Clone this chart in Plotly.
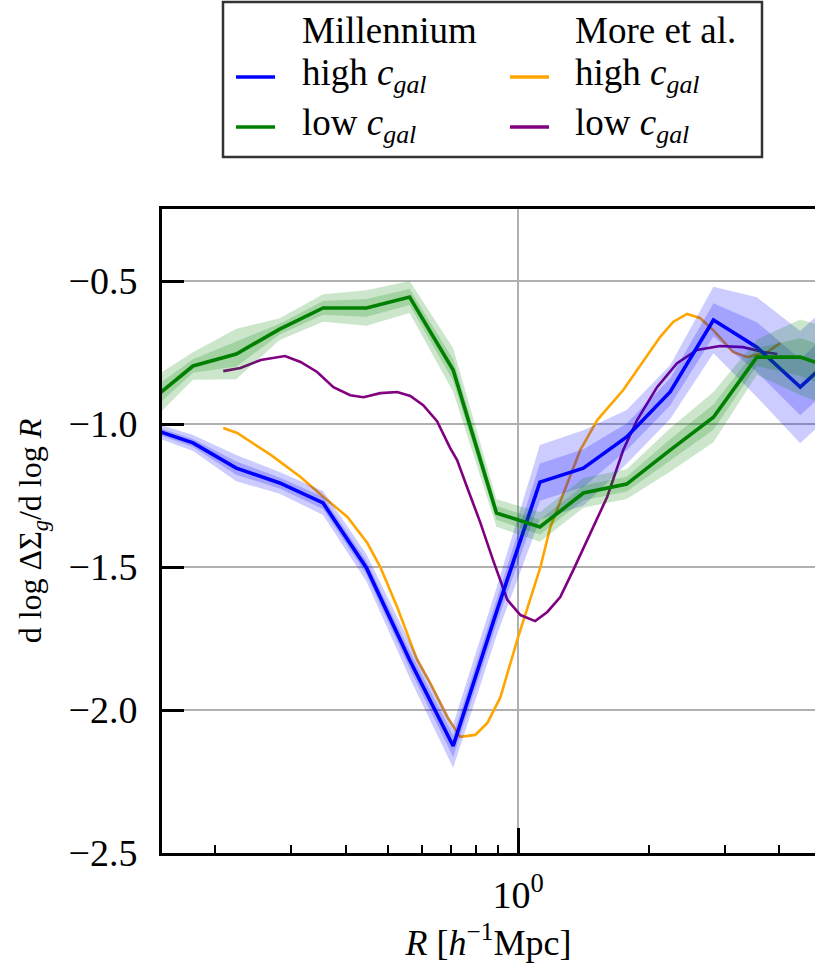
import plotly.graph_objects as go

# ---------------- data ----------------
# Millennium bins (R in h^-1 Mpc)
mill_r = [0.141, 0.178, 0.224, 0.282, 0.355, 0.447, 0.562, 0.708, 0.891,
          1.122, 1.413, 1.778, 2.239, 2.818, 3.548, 4.467, 5.623]
mill_high = [-1.014, -1.066, -1.154, -1.206, -1.276, -1.503, -1.825, -2.126, -1.657,
             -1.203, -1.154, -1.045, -0.888, -0.636, -0.731, -0.871, -0.731]
mill_high_err = [0.012, 0.014, 0.023, 0.019, 0.021, 0.024, 0.031, 0.038, 0.042,
                 0.065, 0.066, 0.047, 0.047, 0.058, 0.087, 0.098, 0.098]
mill_low = [-0.923, -0.797, -0.755, -0.668, -0.594, -0.594, -0.556, -0.811, -1.311,
            -1.360, -1.241, -1.210, -1.091, -0.976, -0.766, -0.766, -0.818]
mill_low_err = [0.038, 0.024, 0.044, 0.019, 0.024, 0.031, 0.028, 0.038, 0.024,
                0.026, 0.026, 0.026, 0.038, 0.044, 0.031, 0.066, 0.070]

# More et al. model curves
more_high_r = [0.209, 0.225, 0.269, 0.315, 0.356, 0.404, 0.449, 0.481, 0.526, 0.585,
               0.627, 0.686, 0.735, 0.796, 0.849, 0.910, 0.995, 1.125, 1.186, 1.297,
               1.390, 1.521, 1.746, 2.123, 2.275, 2.449, 2.624, 2.812, 3.126, 3.373,
               3.750, 4.018]
more_high = [-1.014, -1.031, -1.108, -1.185, -1.255, -1.325, -1.416, -1.500, -1.640, -1.825,
             -1.906, -2.024, -2.094, -2.087, -2.045, -1.955, -1.755, -1.500, -1.360, -1.206,
             -1.091, -0.986, -0.881, -0.696, -0.643, -0.615, -0.629, -0.671, -0.748, -0.766,
             -0.748, -0.717]
more_low_r = [0.209, 0.229, 0.255, 0.290, 0.315, 0.344, 0.375, 0.410, 0.440, 0.481,
              0.526, 0.564, 0.604, 0.650, 0.697, 0.723, 0.762, 0.817, 0.875, 0.944,
              1.012, 1.094, 1.167, 1.250, 1.340, 1.466, 1.603, 1.746, 1.879, 2.089,
              2.323, 2.582, 2.917, 3.296, 3.673, 3.954]
more_low = [-0.815, -0.804, -0.776, -0.762, -0.783, -0.818, -0.871, -0.899, -0.906, -0.892,
            -0.888, -0.902, -0.934, -0.990, -1.084, -1.126, -1.220, -1.343, -1.476, -1.615,
            -1.668, -1.689, -1.657, -1.605, -1.510, -1.381, -1.255, -1.091, -0.986, -0.871,
            -0.787, -0.741, -0.727, -0.731, -0.748, -0.755]

y_ticks = [-2.5, -2.0, -1.5, -1.0, -0.5]
y_ticklabels = ["\u22122.5", "\u22122.0", "\u22121.5", "\u22121.0", "\u22120.5"]
x_minor = [0.2, 0.3, 0.4, 0.5, 0.6, 0.7, 0.8, 0.9, 2, 3, 4]

BLUE, GREEN, ORANGE, PURPLE = "#0000ff", "#008000", "#ffa500", "#800080"
FONT = "Liberation Serif"

# ---------------- layout geometry (pixels) ----------------
W, H = 815, 963
L, R_, T, B = 162, 815, 209, 853


def px(x):
    return (x - L) / (R_ - L)


def py(y):
    return (B - y) / (B - T)


fig = go.Figure()

# More et al. curves (drawn underneath)
fig.add_trace(go.Scatter(x=more_high_r, y=more_high, mode="lines",
                         line=dict(color=ORANGE, width=2.6), hoverinfo="skip"))
fig.add_trace(go.Scatter(x=more_low_r, y=more_low, mode="lines",
                         line=dict(color=PURPLE, width=2.6), hoverinfo="skip"))


def add_band(r, y, err, k, rgba):
    upper = [v + k * e for v, e in zip(y, err)]
    lower = [v - k * e for v, e in zip(y, err)]
    fig.add_trace(go.Scatter(x=r + r[::-1], y=upper + lower[::-1], fill="toself",
                             fillcolor=rgba, line=dict(width=0), mode="lines",
                             hoverinfo="skip"))


# Millennium: 2-sigma and 1-sigma bands, then the median line
for r, y, err, col, rgba in [
    (mill_r, mill_high, mill_high_err, BLUE, "rgba(0,0,255,0.2)"),
    (mill_r, mill_low, mill_low_err, GREEN, "rgba(0,128,0,0.2)"),
]:
    add_band(r, y, err, 2, rgba)
    add_band(r, y, err, 1, rgba)
    fig.add_trace(go.Scatter(x=r, y=y, mode="lines",
                             line=dict(color=col, width=3.6), hoverinfo="skip"))

# ---------------- legend box ----------------
shapes = [dict(type="rect", xref="paper", yref="paper",
               x0=px(223), x1=px(762), y0=py(157), y1=py(2),
               line=dict(color="#333333", width=2.5), fillcolor="white", layer="above")]
annotations = []
legend_cols = [
    (236, 300, "Millennium", [(BLUE, "high"), (GREEN, "low")]),
    (510, 573, "More et al.", [(ORANGE, "high"), (PURPLE, "low")]),
]
rows_y = [77, 127]
for lx, tx, title, entries in legend_cols:
    annotations.append(dict(xref="paper", yref="paper", x=px(tx), y=py(30),
                            xanchor="left", yanchor="middle", showarrow=False,
                            text=title, font=dict(family=FONT, size=37, color="black")))
    for (col, word), ry in zip(entries, rows_y):
        shapes.append(dict(type="line", xref="paper", yref="paper",
                           x0=px(lx), x1=px(lx + 39), y0=py(ry), y1=py(ry),
                           line=dict(color=col, width=3.6), layer="above"))
        annotations.append(dict(xref="paper", yref="paper", x=px(tx), y=py(ry - 2),
                                xanchor="left", yanchor="middle", showarrow=False,
                                text=word + " <i>c</i><sub><i>gal</i></sub>",
                                font=dict(family=FONT, size=37, color="black")))

fig.update_layout(
    width=W, height=H,
    margin=dict(l=L, r=W - R_, t=T, b=H - B, pad=0),
    paper_bgcolor="white", plot_bgcolor="white",
    showlegend=False,
    font=dict(family=FONT, size=38, color="black"),
    shapes=shapes, annotations=annotations,
)

fig.update_xaxes(
    type="log", range=[-0.821, 0.684],
    tickmode="array", tickvals=[1], ticktext=["10<sup>0</sup>"],
    ticks="inside", ticklen=25, tickwidth=2.5, tickcolor="black",
    showline=True, linecolor="black", linewidth=2.8, mirror=True,
    showgrid=True, gridcolor="#b0b0b0", gridwidth=2.2,
    minor=dict(tickmode="array", tickvals=x_minor, ticks="inside", ticklen=8,
               tickwidth=1.8, tickcolor="black", showgrid=False),
    zeroline=False, ticklabelstandoff=6,
    tickfont=dict(family=FONT, size=38),
    title=dict(text="<i>R</i> [<i>h</i><sup>\u22121</sup>Mpc]", standoff=16,
               font=dict(family=FONT, size=36)),
)
fig.update_yaxes(
    range=[-2.5, -0.248],
    tickmode="array", tickvals=y_ticks, ticktext=y_ticklabels,
    ticks="inside", ticklen=22, tickwidth=2.5, tickcolor="black",
    showline=True, linecolor="black", linewidth=2.8, mirror=False,
    showgrid=True, gridcolor="#b0b0b0", gridwidth=2.2,
    zeroline=False, ticklabelstandoff=14,
    tickfont=dict(family=FONT, size=38),
    title=dict(text="d log \u0394\u03a3<sub><i>g</i></sub>/d log <i>R</i>", standoff=18,
               font=dict(family=FONT, size=32)),
)

fig.write_html("out.html")
